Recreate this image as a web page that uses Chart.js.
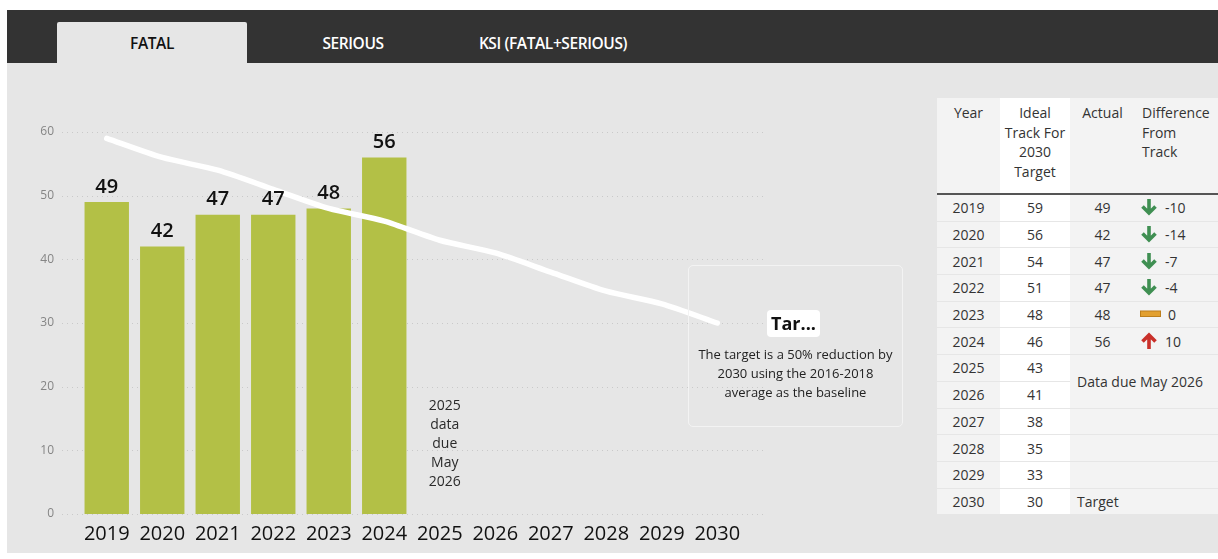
<!DOCTYPE html>
<html>
<head>
<meta charset="utf-8">
<script src="https://cdn.jsdelivr.net/npm/chart.js@4.4.1/dist/chart.umd.min.js"></script>
<style>
  html, body { margin: 0; padding: 0; background: #fff; }
  body { width: 1218px; height: 559px; position: relative; overflow: hidden; font-family: "Open Sans", sans-serif; }
  .tabbar { position: absolute; left: 7px; top: 10px; width: 1211px; height: 53px; background: #333333; }
  .tab { position: absolute; top: 12px; height: 41px; line-height: 42px; text-align: center; font-size: 15.5px; font-weight: 600; color: #fff; letter-spacing: -0.4px; }
  .tab.active { background: #e6e6e6; color: #111; border-radius: 2px 2px 0 0; }
  .panel { position: absolute; left: 7px; top: 63px; width: 1211px; height: 490px; background: #e6e6e6; }
  #chart-fatal { position: absolute; left: 0; top: 63px; }
  .target-box { position: absolute; left: 688px; top: 265px; width: 213px; height: 160px; border: 1px solid #f3f3f3; border-radius: 5px; }
  .target-title { position: absolute; left: 78px; top: 44px; width: 53px; height: 27px; background: #fff; border-radius: 4px; font-weight: 700; font-size: 18px; line-height: 27px; text-align: center; color: #111; }
  .target-text { position: absolute; left: -10px; top: 79px; width: 233px; text-align: center; font-size: 13px; line-height: 19px; color: #222; }
  table.track { position: absolute; left: 937px; top: 98px; width: 281px; border-collapse: collapse; table-layout: fixed; font-size: 14px; color: #333; }
  table.track th { font-weight: 400; vertical-align: top; padding: 5px 0 0 0; height: 90px; line-height: 19.5px; background: #f3f3f3; border-bottom: 2px solid #555; }
  table.track td { height: 25.7px; padding: 0; text-align: center; background: #f3f3f3; border-bottom: 1px solid #e6e6e6; }
  table.track .white { background: #fff; }
  table.track .left { text-align: left; padding-left: 7px; }
  table.track td.diff { text-align: left; padding-left: 5px; }
  .diff svg { vertical-align: -3px; margin-right: 7px; }
</style>
</head>
<body>
<div class="tabbar">
  <div class="tab active" style="left:50px;width:190px;">FATAL</div>
  <div class="tab" style="left:266px;width:160px;">SERIOUS</div>
  <div class="tab" style="left:446px;width:200px;">KSI (FATAL+SERIOUS)</div>
</div>
<div class="panel"></div>
<canvas id="chart-fatal" width="930" height="489"></canvas>
<div class="target-box">
  <div class="target-title">Tar...</div>
  <div class="target-text">The target is a 50% reduction by<br>2030 using the 2016-2018<br>average as the baseline</div>
</div>
<table class="track" id="track-table">
  <colgroup><col style="width:63px"><col style="width:70px"><col style="width:65px"><col style="width:83px"></colgroup>
  <thead>
    <tr>
      <th>Year</th>
      <th class="white">Ideal<br>Track For<br>2030<br>Target</th>
      <th>Actual</th>
      <th class="left">Difference<br>From<br>Track</th>
    </tr>
  </thead>
  <tbody></tbody>
</table>
<script>
// fatal casualties by year, with the ideal track down to the 2030 target
var years = ['2019', '2020', '2021', '2022', '2023', '2024', '2025', '2026', '2027', '2028', '2029', '2030'];
var actual = [49, 42, 47, 47, 48, 56, null, null, null, null, null, null];
var idealTrack = [59, 56, 54, 51, 48, 46, 43, 41, 38, 35, 33, 30];
var yTicks = [0, 10, 20, 30, 40, 50, 60];
var dueNote = ['2025', 'data', 'due', 'May', '2026'];

var arrowDown = '<svg width="18" height="18" viewBox="0 0 18 18"><path d="M9 1 V15 M2.5 8.5 L9 15 L15.5 8.5" stroke="#3f8f52" stroke-width="3.6" fill="none"/></svg>';
var arrowUp = '<svg width="18" height="18" viewBox="0 0 18 18"><path d="M9 17 V3 M2.5 9.5 L9 3 L15.5 9.5" stroke="#c9302a" stroke-width="3.6" fill="none"/></svg>';
var flatBar = '<svg width="21" height="18" viewBox="0 0 21 18"><rect x="0.5" y="6" width="20" height="5.5" fill="#e2a030" stroke="#bd7f1c"/></svg>';

const buildTable = () => {
    var body = document.querySelector('#track-table tbody');
    var html = '';
    years.forEach((yr, i) => {
        html += '<tr><td>' + yr + '</td><td class="white">' + idealTrack[i] + '</td>';
        if (actual[i] != null) {
            var d = actual[i] - idealTrack[i];
            var icon = d < 0 ? arrowDown : (d > 0 ? arrowUp : flatBar);
            html += '<td>' + actual[i] + '</td><td class="diff">' + icon + d + '</td>';
        } else if (i == 6) {
            html += '<td colspan="2" rowspan="2" class="left">Data due May 2026</td>';
        } else if (i == 7) {
            // covered by the row above
        } else if (i == years.length - 1) {
            html += '<td class="left">Target</td><td></td>';
        } else {
            html += '<td></td><td></td>';
        }
        html += '</tr>';
    });
    body.innerHTML = html;
};
buildTable();

// dotted grid, bar values and the "data due" note
const fatalOverlay = {
    id: 'fatalOverlay',
    beforeDatasetsDraw(chart) {
        var ctx = chart.ctx, area = chart.chartArea, y = chart.scales.y;
        ctx.save();
        ctx.strokeStyle = '#c9c9c9';
        ctx.lineWidth = 1;
        ctx.setLineDash([1, 4]);
        yTicks.forEach(v => {
            var py = Math.round(y.getPixelForValue(v)) + 0.5;
            ctx.beginPath();
            ctx.moveTo(area.left - 17, py);
            ctx.lineTo(area.right + 20, py);
            ctx.stroke();
        });
        ctx.restore();
    },
    afterDatasetsDraw(chart) {
        var ctx = chart.ctx;
        var meta = chart.getDatasetMeta(1);
        ctx.save();
        ctx.fillStyle = '#111';
        ctx.font = '600 20px "Open Sans"';
        ctx.textAlign = 'center';
        ctx.textBaseline = 'bottom';
        meta.data.forEach((bar, i) => {
            if (actual[i] == null) return;
            ctx.fillText(actual[i], bar.x, bar.y - 5);
        });
        var x = chart.scales.x.getPixelForValue(6) + 5;
        var mid = chart.scales.y.getPixelForValue(11);
        ctx.font = '14px "Open Sans"';
        ctx.fillStyle = '#2a2a2a';
        ctx.textBaseline = 'middle';
        dueNote.forEach((t, i) => {
            ctx.fillText(t, x, mid + (i - 2) * 18.8);
        });
        ctx.restore();
    }
};

var ctx = document.getElementById('chart-fatal').getContext('2d');
var fatalChart = new Chart(ctx, {
    type: 'bar',
    data: {
        labels: years,
        datasets: [{
            type: 'line',
            label: 'Ideal Track For 2030 Target',
            data: idealTrack,
            borderColor: '#ffffff',
            borderWidth: 5.5,
            borderCapStyle: 'round',
            pointRadius: 0,
            tension: 0.25,
            order: 0
        }, {
            label: 'Actual',
            data: actual,
            backgroundColor: '#b3c046',
            barPercentage: 0.8,
            categoryPercentage: 1,
            order: 1
        }]
    },
    options: {
        responsive: false,
        animation: false,
        layout: { padding: { top: 69, right: 185, left: 0, bottom: 0 } },
        plugins: { legend: { display: false }, tooltip: { enabled: false } },
        scales: {
            x: {
                grid: { display: false, drawTicks: false },
                border: { display: false },
                ticks: { color: '#111', font: { family: 'Open Sans', size: 20 }, padding: 8, maxRotation: 0, autoSkip: false },
                afterFit(scale) { scale.height = 38; }
            },
            y: {
                min: 0,
                max: 60,
                grid: { display: false, drawTicks: false },
                border: { display: false },
                ticks: { stepSize: 10, color: '#858585', font: { family: 'Open Sans', size: 12 }, padding: 25 },
                afterFit(scale) { scale.width = 79; }
            }
        }
    },
    plugins: [fatalOverlay]
});
</script>
</body>
</html>
